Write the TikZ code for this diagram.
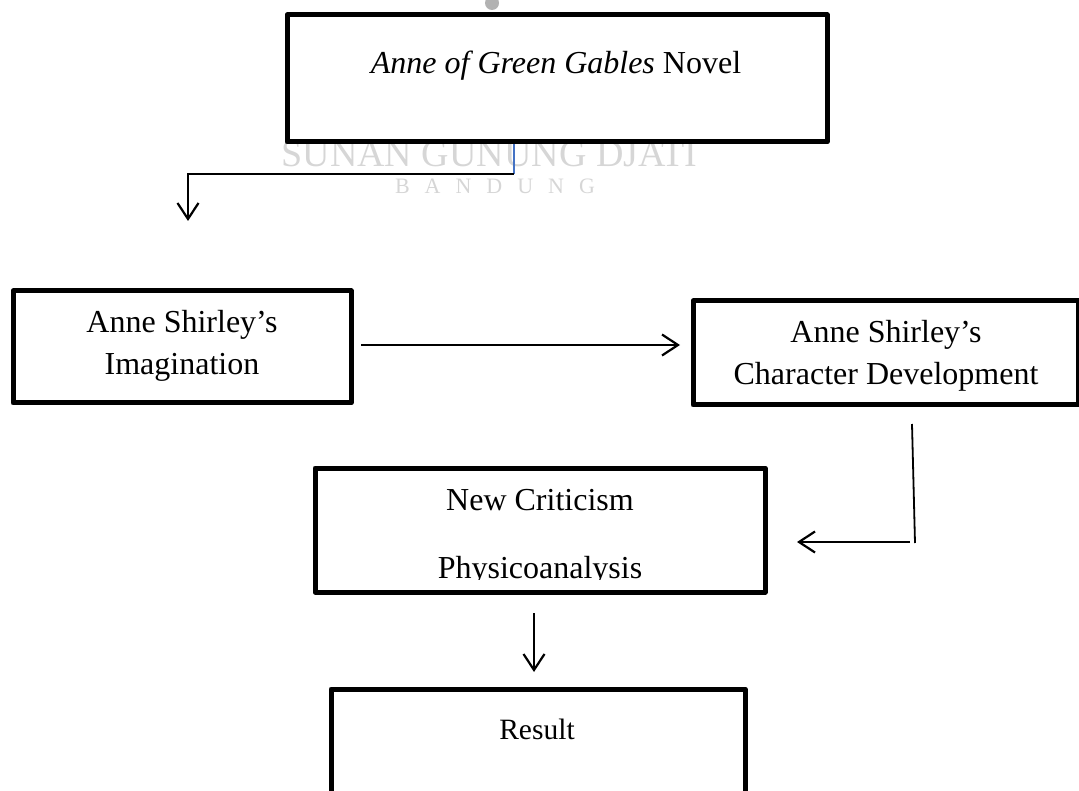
\documentclass[tikz,border=0pt]{standalone}
\usepackage{fontspec}
\setmainfont{Liberation Serif}
\usetikzlibrary{arrows.meta, positioning}
\definecolor{stemblue}{HTML}{4472C4}

\begin{document}
\begin{tikzpicture}[
            x=1pt, y=-1pt,
            stepbox/.style={draw=black, line width=5pt, fill=white, line join=round},
            boxtext/.style={align=center, font=\fontsize{32}{42}\selectfont, inner sep=0pt, anchor=base},
            plainline/.style={line width=1.8pt},
            flow/.style={-{Straight Barb[length=16pt, width=21pt, line width=2.2pt]}, plainline},
            wmark/.style={text=black!16, inner sep=0pt, anchor=base},
            ]
            \useasboundingbox (0,0) rectangle (1079,791);
            
            \node[circle, fill=black!30, minimum size=14pt, inner sep=0pt] (wmdot) at (492,3) {};
            \node[wmark, font=\fontsize{38}{38}\selectfont] (wmsunan) at (489.5,167) {SUNAN GUNUNG DJATI};
            \node[wmark, font=\fontsize{22}{22}\selectfont] (wmbandung) at (495,194) {B\hspace{15pt}A\hspace{15pt}N\hspace{15pt}D\hspace{15pt}U\hspace{15pt}N\hspace{15pt}G};
            
            \node[stepbox, minimum width=540pt, minimum height=127pt] (novel) at (557,78.5) {};
            \node[stepbox, minimum width=338pt, minimum height=112pt] (imagination) at (182,347) {};
            \node[stepbox, minimum width=385pt, minimum height=104pt] (character) at (885.5,353) {};
            \node[stepbox, minimum width=450pt, minimum height=124pt] (theory) at (540,530) {};
            \node[stepbox, minimum width=414pt, minimum height=130pt] (result) at (538,754) {};
            
            \node[boxtext] (novellabel) at (556,74) {\textit{Anne of Green Gables} Novel};
            \node[boxtext] (imaginationlabel1) at (182,333) {Anne Shirley’s};
            \node[boxtext] (imaginationlabel2) at (182,375) {Imagination};
            \node[boxtext] (characterlabel1) at (886,343) {Anne Shirley’s};
            \node[boxtext] (characterlabel2) at (886,385) {Character Development};
            \node[boxtext] (criticismlabel) at (540,510) {New Criticism};
            \begin{scope}
                \clip (300,540) rectangle (780,579);
                \node[boxtext] (physicolabel) at (540,578) {Physicoanalysis};
            \end{scope}
            \node[boxtext, font=\fontsize{29.5}{42}\selectfont] (resultlabel) at (537,739) {Result};
            
            \coordinate (turn1) at (514,174);
            \coordinate (turn2) at (188,174);
            \coordinate (end1) at (188,221);
            \coordinate (start2) at (361,345);
            \coordinate (end2) at (680,345);
            \coordinate (start3) at (912,424);
            \coordinate (turn3) at (915,543);
            \coordinate (turn4) at (910,542);
            \coordinate (end3) at (797,542);
            \coordinate (start4) at (534,613);
            \coordinate (end4) at (534,672);
            
            \draw[plainline, stemblue] (novel.south -| turn1) -- (turn1);
            \draw[flow] (turn1) -- (turn2) -- (end1);
            \draw[flow] (start2) -- (end2);
            \draw[plainline] (start3) -- (turn3);
            \draw[flow] (turn4) -- (end3);
            \draw[flow] (start4) -- (end4);
        \end{tikzpicture}
\end{document}
